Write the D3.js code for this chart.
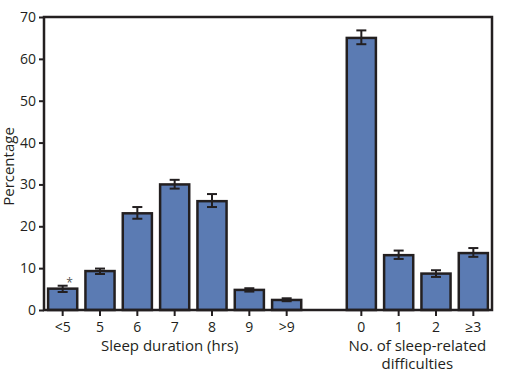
<!DOCTYPE html>
<html>
<head>
<meta charset="utf-8">
<script src="https://cdn.jsdelivr.net/npm/d3@7"></script>
<style>
  body { margin: 0; background: #fff; }
  text { font-family: 'Open Sans', sans-serif; fill: #231f20; }
</style>
</head>
<body>
<script>
// categories: sleep duration, then a blank slot, then no. of difficulties
const durationLabels = ['<5', '5', '6', '7', '8', '9', '>9']
const difficultyLabels = ['0', '1', '2', '\u22653']

// percentages and 95% CI
const durationValues = [5.1, 9.3, 23.1, 30.0, 26.0, 4.8, 2.4]
const durationLow = [4.3, 8.6, 21.8, 29.0, 24.6, 4.4, 2.1]
const durationHigh = [5.8, 9.9, 24.6, 31.1, 27.7, 5.2, 2.8]

const difficultyValues = [65.0, 13.1, 8.7, 13.6]
const difficultyLow = [63.5, 12.2, 7.9, 12.7]
const difficultyHigh = [66.8, 14.2, 9.5, 14.8]

const yTicks = [0, 10, 20, 30, 40, 50, 60, 70]

const width = 507
const height = 375
const margin = { top: 17, right: 15, bottom: 65, left: 44 }
const innerWidth = width - margin.left - margin.right
const innerHeight = height - margin.top - margin.bottom

// build rows for the chart
const data = []
durationLabels.forEach((c, i) => data.push({ key: 'd' + i, label: c, value: durationValues[i], lo: durationLow[i], hi: durationHigh[i], star: i === 0 }))
const gapKey = 'gap'
difficultyLabels.forEach((c, i) => data.push({ key: 'n' + i, label: c, value: difficultyValues[i], lo: difficultyLow[i], hi: difficultyHigh[i] }))

const domainKeys = data.slice(0, 7).map(d => d.key).concat([gapKey], data.slice(7).map(d => d.key))

const svg = d3.select('body').append('svg')
  .attr('width', width)
  .attr('height', height)

const g = svg.append('g')
  .attr('transform', `translate(${margin.left},${margin.top})`)

const xScale = d3.scaleBand()
  .domain(domainKeys)
  .range([0, innerWidth])
  .paddingInner(0.22)
  .paddingOuter(0.11)

const yScale = d3.scaleLinear()
  .domain([0, 70])
  .range([innerHeight, 0])

const ink = '#231f20'

// y axis
const yAxis = d3.axisLeft(yScale)
  .tickValues(yTicks)
  .tickSize(5)
  .tickPadding(3)
g.append('g').call(yAxis)
  .call(a => a.select('.domain').remove())
  .call(a => a.selectAll('line').attr('stroke', ink).attr('stroke-width', 2))
  .call(a => a.selectAll('text').attr('font-size', 14).style('fill', ink))

// x axis
const labelOf = {}
data.forEach(d => labelOf[d.key] = d.label)
const xAxis = d3.axisBottom(xScale)
  .tickValues(data.map(d => d.key))
  .tickFormat(k => labelOf[k])
  .tickSize(6)
  .tickPadding(6)
g.append('g').call(xAxis)
  .attr('transform', `translate(0,${innerHeight})`)
  .call(a => a.select('.domain').remove())
  .call(a => a.selectAll('line').attr('stroke', ink).attr('stroke-width', 2))
  .call(a => a.selectAll('text').attr('font-size', 14).style('fill', ink))

// bars
g.selectAll('rect.bar')
  .data(data)
  .enter()
  .append('rect')
    .attr('class', 'bar')
    .attr('x', d => xScale(d.key))
    .attr('y', d => yScale(d.value))
    .attr('width', xScale.bandwidth())
    .attr('height', d => innerHeight - yScale(d.value))
    .attr('fill', '#5b7bb3')
    .attr('stroke', ink)
    .attr('stroke-width', 2.5)

// error bars
const eb = g.selectAll('g.err')
  .data(data)
  .enter()
  .append('g')
    .attr('class', 'err')
    .attr('transform', d => `translate(${xScale(d.key) + xScale.bandwidth() / 2},0)`)
eb.append('line')
  .attr('y1', d => yScale(d.lo)).attr('y2', d => yScale(d.hi))
  .attr('stroke', ink).attr('stroke-width', 2)
eb.append('line')
  .attr('x1', -5).attr('x2', 5)
  .attr('y1', d => yScale(d.lo)).attr('y2', d => yScale(d.lo))
  .attr('stroke', ink).attr('stroke-width', 2)
eb.append('line')
  .attr('x1', -5).attr('x2', 5)
  .attr('y1', d => yScale(d.hi)).attr('y2', d => yScale(d.hi))
  .attr('stroke', ink).attr('stroke-width', 2)

// asterisk on first bar
g.selectAll('text.star')
  .data(data.filter(d => d.star))
  .enter()
  .append('text')
    .attr('class', 'star')
    .attr('x', d => xScale(d.key) + xScale.bandwidth() / 2 + 7)
    .attr('y', d => yScale(d.hi) + 1)
    .attr('text-anchor', 'middle')
    .attr('font-size', 12)
    .style('fill', '#555')
    .text('*')

// frame
g.append('rect')
  .attr('width', innerWidth)
  .attr('height', innerHeight)
  .attr('fill', 'none')
  .attr('stroke', ink)
  .attr('stroke-width', 2.5)

// axis titles
const groupCenter = keys => (xScale(keys[0]) + xScale(keys[keys.length - 1]) + xScale.bandwidth()) / 2
g.append('text')
  .text('Sleep duration (hrs)')
  .attr('text-anchor', 'middle')
  .attr('x', groupCenter(domainKeys.slice(0, 7)) - 5)
  .attr('y', innerHeight + 41)
  .attr('font-size', 15)

g.append('text')
  .attr('text-anchor', 'middle')
  .attr('x', groupCenter(domainKeys.slice(8)))
  .attr('y', innerHeight + 41)
  .attr('font-size', 15)
  .text('No. of sleep-related')
  .append('tspan')
    .attr('x', groupCenter(domainKeys.slice(8)))
    .attr('dy', 18)
    .text('difficulties')

g.append('text')
  .text('Percentage')
  .attr('text-anchor', 'middle')
  .attr('transform', 'rotate(-90)')
  .attr('x', -innerHeight / 2 - 3)
  .attr('y', -30)
  .attr('font-size', 15)
</script>
</body>
</html>
